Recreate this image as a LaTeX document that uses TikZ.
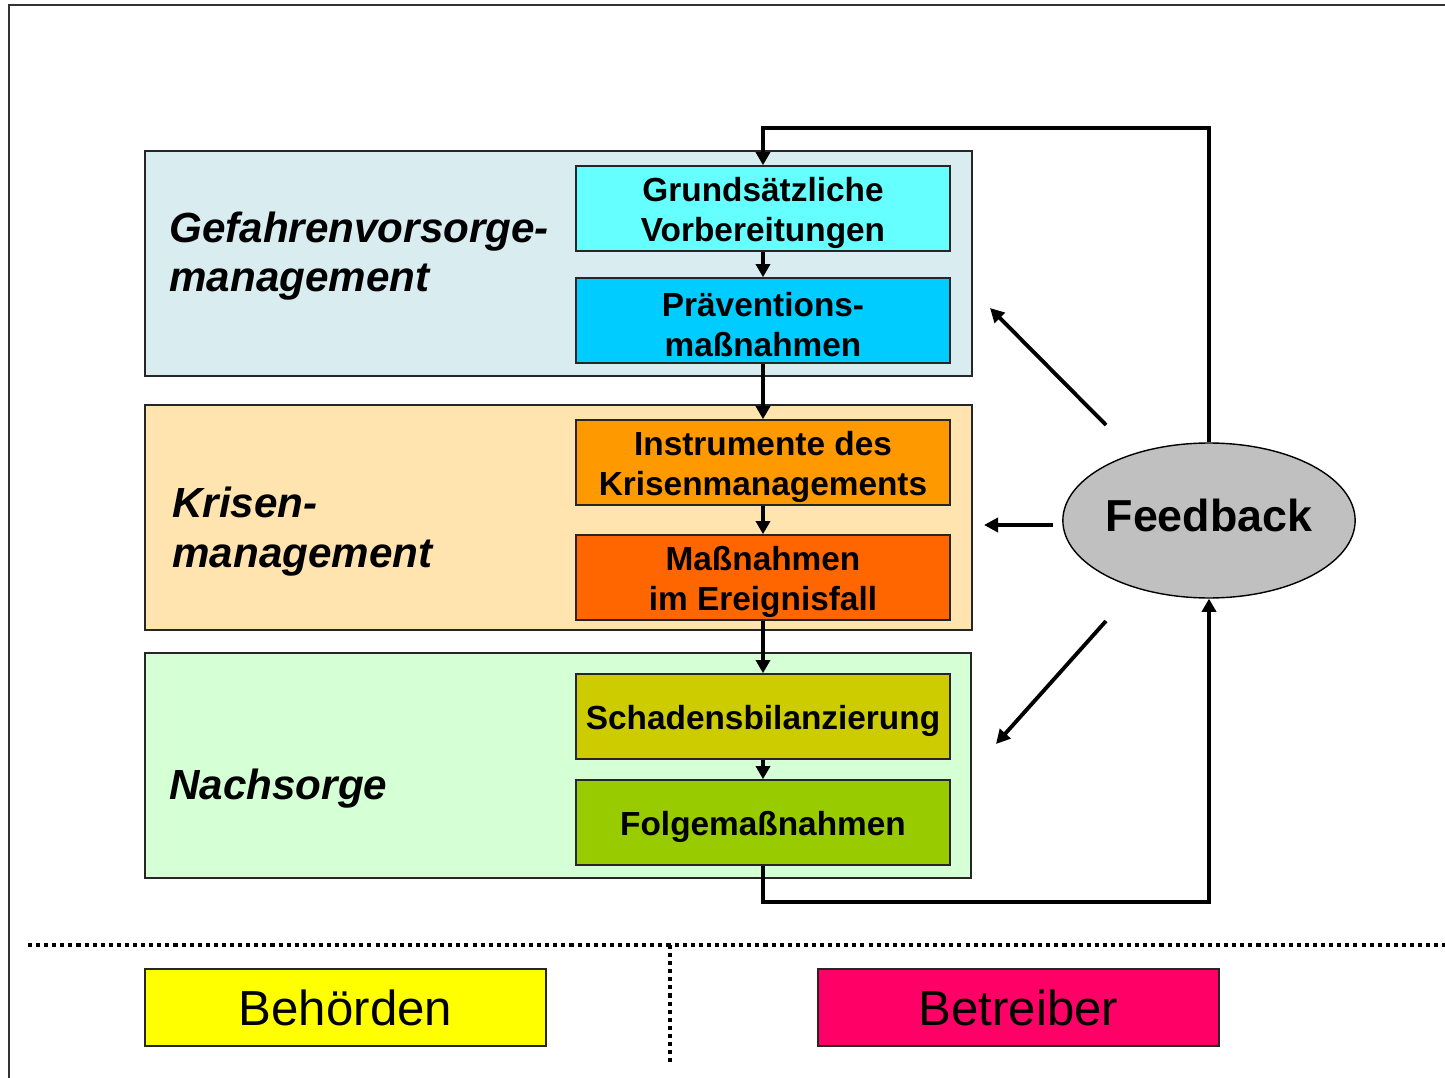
\documentclass[tikz,border=0pt]{standalone}
\usepackage{fontspec}
\setmainfont{Liberation Sans}
\usetikzlibrary{arrows.meta,shapes.geometric}
\definecolor{panelA}{HTML}{D9ECEF}
\definecolor{panelB}{HTML}{FFE4B0}
\definecolor{panelC}{HTML}{D5FFD5}
\definecolor{cGa}{HTML}{66FFFF}
\definecolor{cGb}{HTML}{00CCFF}
\definecolor{cKa}{HTML}{FF9900}
\definecolor{cKb}{HTML}{FF6600}
\definecolor{cNa}{HTML}{CCCC00}
\definecolor{cNb}{HTML}{99CC00}
\definecolor{cFb}{HTML}{C0C0C0}
\definecolor{cBeh}{HTML}{FFFF00}
\definecolor{cBet}{HTML}{FF0066}
\newcommand\tstr{\rule{0pt}{18.4pt}}
\tikzset{
  panel/.style={draw=black!85, line width=0.9pt, minimum width=16.54cm, minimum height=4.5cm, inner sep=0pt},
  stepbox/.style={draw=black!85, line width=0.9pt, minimum width=7.48cm, minimum height=1.7cm, inner sep=0pt, align=center, font=\fontsize{19}{22.8}\selectfont\bfseries},
  phase/.style={anchor=base west, inner sep=0pt, align=left, font=\fontsize{24}{28.4}\selectfont\bfseries\itshape},
  role/.style={draw=black!85, line width=0.9pt, minimum width=8.02cm, minimum height=1.54cm, inner sep=0pt, font=\fontsize{28}{33}\selectfont},
  flow/.style={line width=2pt, -{Triangle[length=7.5pt,width=8pt]}},
  loopline/.style={line width=2.2pt},
  fbarrow/.style={line width=2.2pt, -{Triangle[length=8pt,width=8pt]}},
  sep/.style={line width=1.8pt, dash pattern=on 2.3pt off 2.3pt}
}
\begin{document}
\begin{tikzpicture}[x=0.02cm, y=-0.02cm]
\useasboundingbox (0,0) rectangle (1445,1078);
% outer frame
\draw[line width=1.1pt, black!80] (9,1078) -- (9,5) -- (1445,5);
% panels
\node[panel, fill=panelA] (pA) at (558.5,263.5) {};
\node[panel, fill=panelB] (pB) at (558.5,517.5) {};
\node[panel, fill=panelC, minimum width=16.52cm] (pC) at (558,765.5) {};
% phase labels (base = baseline of last line)
\node[phase] (lA) at (169,292) {Gefahrenvorsorge-\\management};
\node[phase] (lB) at (172,567) {Krisen-\\management};
\node[phase] (lC) at (169,799) {Nachsorge};
% step boxes
\node[stepbox, fill=cGa] (g1) at (763,208.5) {\tstr Grundsätzliche\\Vorbereitungen};
\node[stepbox, fill=cGb] (g2) at (763,320.5) {\tstr Präventions-\\maßnahmen};
\node[stepbox, fill=cKa] (k1) at (763,462.5) {\tstr Instrumente des\\Krisenmanagements};
\node[stepbox, fill=cKb] (k2) at (763,577.5) {\tstr Maßnahmen\\im Ereignisfall};
\node[stepbox, fill=cNa] (n1) at (763,716.5) {\tstr Schadensbilanzierung};
\node[stepbox, fill=cNb] (n2) at (763,822.5) {\rule{0pt}{19.2pt}Folgemaßnahmen};
% feedback ellipse
\node[ellipse, draw=black, line width=0.8pt, fill=cFb, minimum width=5.68cm, minimum height=3.1cm, inner sep=0pt, font=\fontsize{25.5}{30}\selectfont\bfseries] (fb) at (1209,520.5) {Feedback\rule[-5.6pt]{0pt}{5.6pt}};
% vertical flow arrows
\draw[flow] (g1.south) -- (g2.north);
\draw[flow] (g2.south) -- (k1.north);
\draw[flow] (k1.south) -- (k2.north);
\draw[flow] (k2.south) -- (n1.north);
\draw[flow] (n1.south) -- (n2.north);
% feedback loop
\coordinate (topc) at (1209,128);
\coordinate (botc) at (1209,902);
\draw[loopline, -{Triangle[length=7.5pt,width=8pt]}] (fb.north) -- (topc) -| (g1.north);
\draw[loopline, -{Triangle[length=7.5pt,width=8pt]}] (n2.south) |- (botc) -- (fb.south);
% feedback arrows
\coordinate (fa1) at (1106,425);
\coordinate (ta1) at (990,308);
\coordinate (fa2) at (1053,525);
\coordinate (ta2) at (984,525);
\coordinate (fa3) at (1106,621);
\coordinate (ta3) at (996,744);
\draw[fbarrow] (fa1) -- (ta1);
\draw[fbarrow] (fa2) -- (ta2);
\draw[fbarrow] (fa3) -- (ta3);
% separators
\coordinate (sl) at (28,945);
\coordinate (sr) at (1445,945);
\coordinate (vt) at (670,945);
\coordinate (vb) at (670,1062);
\draw[sep] (sl) -- (sr);
\draw[sep] (vt) -- (vb);
% roles
\node[role, fill=cBeh] (beh) at (345.5,1007.5) {Behörden};
\node[role, fill=cBet] (bet) at (1018.5,1007.5) {Betreiber};
\end{tikzpicture}
\end{document}
